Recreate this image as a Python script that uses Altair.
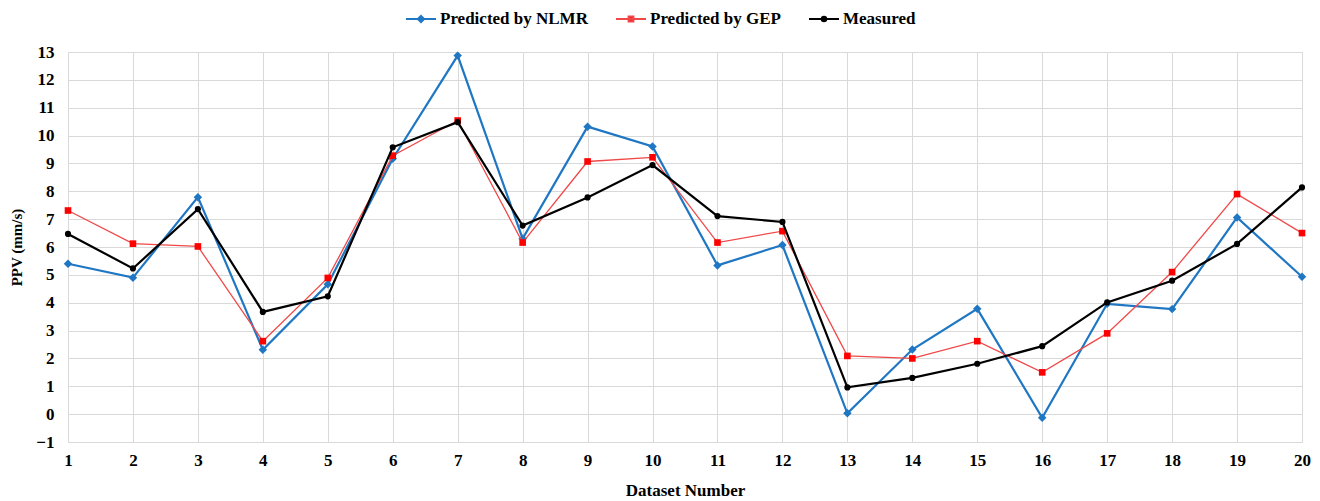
import altair as alt
import pandas as pd

datasets = list(range(1, 21))
nlmr = [5.40, 4.90, 7.79, 2.31, 4.66, 9.17, 12.87, 6.30, 10.32, 9.61,
        5.34, 6.07, 0.03, 2.32, 3.78, -0.13, 3.96, 3.77, 7.06, 4.93]
gep = [7.31, 6.12, 6.02, 2.62, 4.89, 9.28, 10.54, 6.16, 9.07, 9.22,
       6.16, 6.57, 2.09, 2.00, 2.62, 1.50, 2.90, 5.10, 7.90, 6.50]
measured = [6.47, 5.23, 7.36, 3.67, 4.23, 9.58, 10.48, 6.77, 7.78, 8.94,
            7.11, 6.90, 0.96, 1.30, 1.81, 2.44, 4.01, 4.79, 6.11, 8.14]

series_names = ["Predicted by NLMR", "Predicted by GEP", "Measured"]
line_colors = ["#1f77c4", "#f04848", "#000000"]
point_colors = ["#1f77c4", "#ff0000", "#000000"]
line_widths = [2.2, 1.3, 2.2]
shapes = ["diamond", "square", "circle"]
point_sizes = [72, 44, 38]
x_ticks = list(range(1, 21))
y_ticks = list(range(-1, 14))

# legend symbols: a short line with the marker in its middle
legend_paths = [
    "M-1,0H1M0,-0.21L0.21,0L0,0.21L-0.21,0Z",
    "M-1,0H1M-0.16,-0.16H0.16V0.16H-0.16Z",
    "M-1,0H1M-0.15,0A0.15,0.15,0,1,0,0.15,0A0.15,0.15,0,1,0,-0.15,0Z",
]

rows = []
for name, vals in zip(series_names, [nlmr, gep, measured]):
    for d, v in zip(datasets, vals):
        rows.append({"dataset": d, "ppv": v, "series": name})
df = pd.DataFrame(rows)

FONT = "'Liberation Serif', 'Times New Roman', 'DejaVu Serif', serif"

x_enc = alt.X(
    "dataset:Q",
    scale=alt.Scale(domain=[1, 20], nice=False, zero=False),
    axis=alt.Axis(
        values=x_ticks, format="d", title="Dataset Number",
        labelFont=FONT, labelFontWeight="bold", labelFontSize=17,
        labelColor="#000000", labelPadding=10, labelFlush=False,
        titleFont=FONT, titleFontWeight="bold", titleFontSize=17,
        titleColor="#000000", titlePadding=14,
        grid=True, gridColor="#d9d9d9", gridWidth=1,
        domain=False, ticks=False,
    ),
)
y_enc = alt.Y(
    "ppv:Q",
    scale=alt.Scale(domain=[-1, 13], nice=False, zero=False),
    axis=alt.Axis(
        values=y_ticks, format="d", title="PPV (mm/s)",
        labelFont=FONT, labelFontWeight="bold", labelFontSize=17,
        labelColor="#000000", labelPadding=14, labelFlush=False,
        titleFont=FONT, titleFontWeight="bold", titleFontSize=15,
        titleColor="#000000", titlePadding=11,
        grid=True, gridColor="#d9d9d9", gridWidth=1,
        domain=False, ticks=False,
    ),
)

layers = []
for i, name in enumerate(series_names):
    base = alt.Chart(df).transform_filter(alt.datum.series == name)
    layers.append(
        base.mark_line(color=line_colors[i], strokeWidth=line_widths[i]).encode(
            x=x_enc, y=y_enc, order="dataset:Q"
        )
    )
    layers.append(
        base.mark_point(
            shape=shapes[i], filled=True, color=point_colors[i],
            size=point_sizes[i], opacity=1
        ).encode(x=x_enc, y=y_enc)
    )

legend = alt.Legend(
    title=None, orient="none", direction="horizontal",
    legendX=337, legendY=-49,
    labelFont=FONT, labelFontWeight="bold", labelFontSize=17,
    labelColor="#000000", labelOffset=3, columnPadding=24,
    symbolSize=900, symbolStrokeWidth=2, padding=0,
)
legend_layer = alt.Chart(df).transform_filter("false").mark_point(
    filled=True, strokeWidth=2, opacity=1
).encode(
    fill=alt.Fill("series:N", scale=alt.Scale(domain=series_names, range=point_colors), legend=legend),
    stroke=alt.Stroke("series:N", scale=alt.Scale(domain=series_names, range=line_colors), legend=legend),
    shape=alt.Shape("series:N", scale=alt.Scale(domain=series_names, range=legend_paths), legend=legend),
)

chart = alt.layer(*layers, legend_layer).properties(
    width=1234, height=390,
    autosize=alt.AutoSizeParams(type="none"),
    padding={"left": 60, "top": 44, "right": 10, "bottom": 60},
).configure_view(stroke=None).configure(background="#ffffff")

chart.save("out.html", embed_options={"renderer": "svg", "actions": False})
